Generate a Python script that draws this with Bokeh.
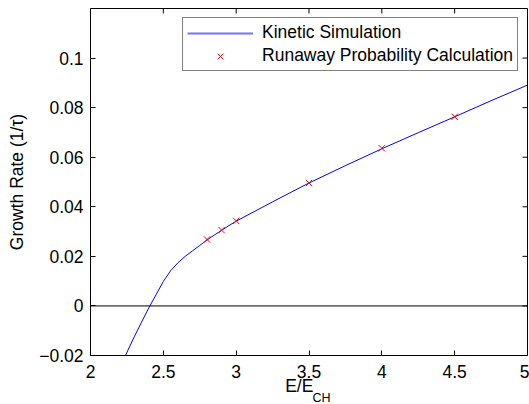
from bokeh.plotting import figure
from bokeh.models import Span, FixedTicker, Legend, LegendItem, Title
from bokeh.embed import file_html
from bokeh.resources import INLINE

# Kinetic simulation curve
kin_x = [2.24, 2.30, 2.35, 2.40, 2.45, 2.50, 2.55, 2.60, 2.65, 2.70, 2.75, 2.80,
         2.85, 2.90, 2.95, 3.00, 3.25, 3.50, 3.75, 4.00, 4.25, 4.50, 4.75, 5.00]
kin_y = [-0.0200, -0.0125, -0.0066, -0.0008, 0.0045, 0.0099, 0.0142, 0.0174,
         0.0200, 0.0222, 0.0244, 0.0266, 0.0286, 0.0305, 0.0324, 0.0342,
         0.0420, 0.0496, 0.0566, 0.0634, 0.0699, 0.0763, 0.0828, 0.0891]

# Runaway probability calculation points
rp_x = [2.8, 2.9, 3.0, 3.5, 4.0, 4.5]
rp_y = [0.0268, 0.0306, 0.0343, 0.0496, 0.0636, 0.0763]

x_ticks = [2, 2.5, 3, 3.5, 4, 4.5, 5]
y_ticks = [-0.02, 0, 0.02, 0.04, 0.06, 0.08, 0.1]
y_tick_labels = ["\u22120.02", "0", "0.02", "0.04", "0.06", "0.08", "0.1"]

FONT = "Liberation Sans"
FS = "17.5px"
nan = float("nan")

p = figure(width=529, height=404, x_range=(2, 5), y_range=(-0.02, 0.12),
           output_backend="svg", toolbar_location=None,
           min_border_left=90, min_border_right=2, min_border_top=8,
           min_border_bottom=49)
p.grid.visible = False
p.outline_line_color = "black"
p.outline_line_width = 1
p.background_fill_color = "white"
p.border_fill_color = "white"

# zero line
p.add_layout(Span(location=0, dimension="width", line_color="black", line_width=1))

line_r = p.line(kin_x, kin_y, line_color="#0000ff", line_width=1)
pts_r = p.scatter(rp_x, rp_y, marker="x", size=9, line_color="#ff0000", line_width=1)
# legend swatch for the simulation curve (draws nothing on the plot)
line_key = p.multi_line([[nan, nan]], [[nan, nan]], line_color="#0000ff",
                        line_alpha=0.55, line_width=2)

# inward ticks on the top and right edges (dash markers clipped by the frame)
p.scatter(x_ticks, [0.12] * len(x_ticks), marker="dash", angle=1.5707963,
          size=10, line_color="black", line_width=1)
p.scatter([5] * len(y_ticks), y_ticks, marker="dash", size=10,
          line_color="black", line_width=1)

for ax in (p.xaxis[0], p.yaxis[0]):
    ax.major_tick_in = 5
    ax.major_tick_out = 0
    ax.minor_tick_line_color = None
    ax.axis_line_color = "black"
    ax.major_tick_line_color = "black"
    ax.major_label_text_font = FONT
    ax.major_label_text_font_size = FS
    ax.major_label_text_color = "black"
    ax.axis_label_text_font = FONT
    ax.axis_label_text_font_size = FS
    ax.axis_label_text_font_style = "normal"
    ax.axis_label_text_color = "black"

p.xaxis[0].ticker = FixedTicker(ticks=x_ticks)
p.yaxis[0].ticker = FixedTicker(ticks=y_ticks)
p.yaxis[0].major_label_overrides = {t: l for t, l in zip(y_ticks, y_tick_labels)}
p.xaxis[0].major_label_standoff = 9
p.yaxis[0].major_label_standoff = 7

p.yaxis[0].axis_label = "Growth Rate (1/\u03c4)"
p.yaxis[0].axis_label_standoff = 9

# x-axis label E/E with subscript CH
p.xaxis[0].axis_label = "E/E" + "\u00a0" * 4
p.xaxis[0].axis_label_standoff = -5
sub = Title(text="CH", align="left", offset=222, vertical_align="top",
            standoff=-16, text_font=FONT, text_font_size="12.5px",
            text_font_style="normal", text_color="black")
p.add_layout(sub, "below")

legend = Legend(items=[LegendItem(label="Kinetic Simulation", renderers=[line_key]),
                       LegendItem(label="Runaway Probability Calculation", renderers=[pts_r])],
                location="top_right")
legend.label_text_font = FONT
legend.label_text_font_size = FS
legend.label_text_color = "black"
legend.border_line_color = "black"
legend.border_line_width = 1
legend.padding = 4
legend.spacing = 2
legend.label_height = 20
legend.glyph_height = 20
legend.glyph_width = 66
legend.label_standoff = 9
legend.margin = 9
p.add_layout(legend)

open("out.html", "w").write(file_html(p, INLINE))
